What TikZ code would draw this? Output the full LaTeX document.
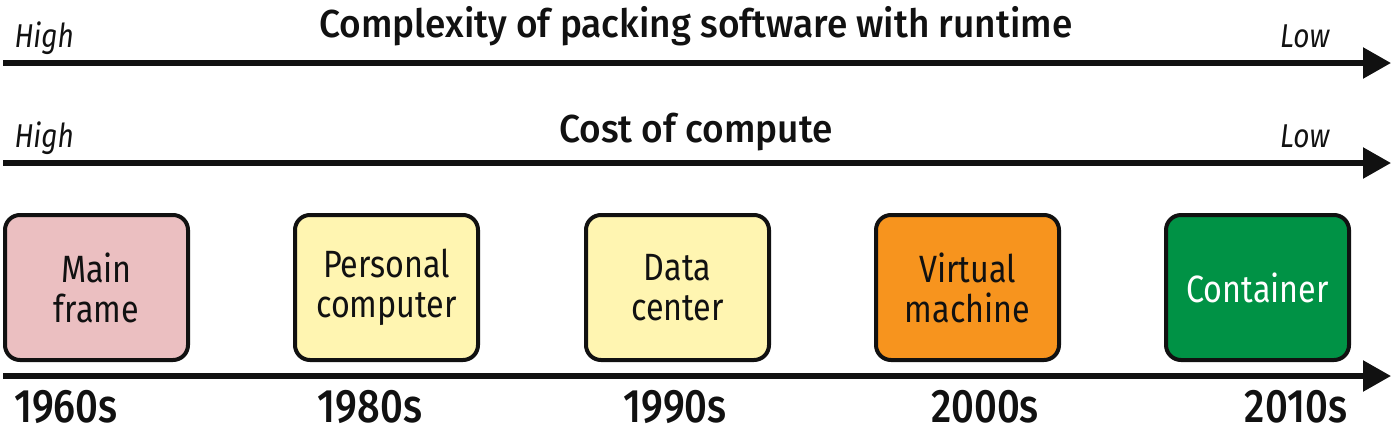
\documentclass[tikz,border=0pt]{standalone}
\usepackage{fontspec}
\setmainfont{Fira Sans}[FakeStretch=0.85, BoldFont={Fira Sans Medium}, BoldFeatures={FakeStretch=0.85}]
\newfontfamily\titlefont{Fira Sans Medium}[FakeStretch=0.95]
\usetikzlibrary{arrows.meta}
\definecolor{pinkbox}{HTML}{EBBFC1}
\definecolor{yellowbox}{HTML}{FFF5B1}
\definecolor{orangebox}{HTML}{F7941E}
\definecolor{greenbox}{HTML}{009245}
\definecolor{ink}{HTML}{111111}
\begin{document}
\begin{tikzpicture}[x=1pt,y=-1pt,
  axis/.style={draw=ink, line width=5.5pt, -{Triangle[length=28pt,width=30pt]}},
  era/.style={draw=ink, line width=4pt, rounded corners=15pt, minimum width=183pt, minimum height=145pt, align=center, inner sep=0pt, font=\fontsize{38}{40}\selectfont, text=ink},
  title/.style={anchor=base, font=\titlefont\fontsize{39}{41}\selectfont, text=ink},
  endlabel/.style={font=\itshape\fontsize{33}{35}\selectfont, text=ink},
  year/.style={anchor=base, font=\bfseries\fontsize{47}{49}\selectfont, text=ink}]
\useasboundingbox (0,0) rectangle (1392,432);
% axes
\coordinate (a1s) at (3,63);   \coordinate (a1e) at (1391,63);
\coordinate (a2s) at (3,163);  \coordinate (a2e) at (1391,163);
\coordinate (a3s) at (3,376);  \coordinate (a3e) at (1391,376);
\draw[axis] (a1s) -- (a1e);
\draw[axis] (a2s) -- (a2e);
\draw[axis] (a3s) -- (a3e);
% titles
\node[title] (t1) at (696,37) {Complexity of packing software with runtime};
\node[title] (t2) at (696,142) {Cost of compute};
\node[endlabel, anchor=base west] (h1) at (11,47) {High};
\node[endlabel, anchor=base east] (l1) at (1333,47) {Low};
\node[endlabel, anchor=base west] (h2) at (11,147) {High};
\node[endlabel, anchor=base east] (l2) at (1333,147) {Low};
% boxes
\node[era, fill=pinkbox] (mf) at (96.5,287.5) {Main\\frame};
\node[era, fill=yellowbox] (pc) at (386.5,287.5) {Personal\\computer};
\node[era, fill=yellowbox] (dc) at (677.5,287.5) {Data\\center};
\node[era, fill=orangebox] (vm) at (967.5,287.5) {Virtual\\machine};
\node[era, fill=greenbox, text=white] (ct) at (1257.5,287.5) {Container};
% years
\node[year] (y1) at (66,422) {1960s};
\node[year] (y2) at (370,422) {1980s};
\node[year] (y3) at (675,422) {1990s};
\node[year] (y4) at (985,422) {2000s};
\node[year] (y5) at (1296,422) {2010s};
\end{tikzpicture}
\end{document}
